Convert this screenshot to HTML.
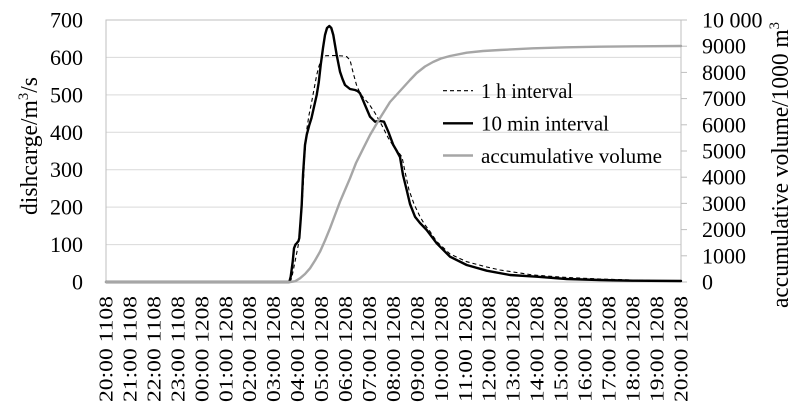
<!DOCTYPE html>
<html><head><meta charset="utf-8"><style>
html,body{margin:0;padding:0;background:#fff;}
svg{display:block;}
text{font-family:"Liberation Serif","Times New Roman",serif;fill:#000;}
</style></head><body>
<svg width="798" height="414" viewBox="0 0 798 414" xmlns="http://www.w3.org/2000/svg">
<rect x="0" y="0" width="798" height="414" fill="#fff"/>
<g stroke="#d9d9d9" stroke-width="1">
<line x1="106" y1="244.6" x2="681" y2="244.6"/>
<line x1="106" y1="207.1" x2="681" y2="207.1"/>
<line x1="106" y1="169.7" x2="681" y2="169.7"/>
<line x1="106" y1="132.3" x2="681" y2="132.3"/>
<line x1="106" y1="94.9" x2="681" y2="94.9"/>
<line x1="106" y1="57.4" x2="681" y2="57.4"/>
</g>
<rect x="106" y="20" width="575" height="262" fill="none" stroke="#bfbfbf" stroke-width="1"/>
<g stroke="#bfbfbf" stroke-width="1">
<line x1="681" y1="282" x2="687" y2="282"/>
<line x1="681" y1="255.8" x2="687" y2="255.8"/>
<line x1="681" y1="229.6" x2="687" y2="229.6"/>
<line x1="681" y1="203.4" x2="687" y2="203.4"/>
<line x1="681" y1="177.2" x2="687" y2="177.2"/>
<line x1="681" y1="151" x2="687" y2="151"/>
<line x1="681" y1="124.8" x2="687" y2="124.8"/>
<line x1="681" y1="98.6" x2="687" y2="98.6"/>
<line x1="681" y1="72.4" x2="687" y2="72.4"/>
<line x1="681" y1="46.2" x2="687" y2="46.2"/>
<line x1="681" y1="20" x2="687" y2="20"/>
</g>
<g font-size="22" text-anchor="end">
<text x="83" y="289.5">0</text>
<text x="83" y="252">100</text>
<text x="83" y="214.6">200</text>
<text x="83" y="177.2">300</text>
<text x="83" y="139.8">400</text>
<text x="83" y="102.4">500</text>
<text x="83" y="64.9">600</text>
<text x="83" y="27.5">700</text>
</g>
<g font-size="22" text-anchor="start">
<text x="702" y="289.5">0</text>
<text x="702" y="263.3">1000</text>
<text x="702" y="237.1">2000</text>
<text x="702" y="210.9">3000</text>
<text x="702" y="184.7">4000</text>
<text x="702" y="158.5">5000</text>
<text x="702" y="132.3">6000</text>
<text x="702" y="106.1">7000</text>
<text x="702" y="79.9">8000</text>
<text x="702" y="53.7">9000</text>
<text x="702" y="27.5">10 000</text>
</g>
<text font-size="24" transform="translate(37,215) rotate(-90)" textLength="138" lengthAdjust="spacingAndGlyphs">dishcarge/m<tspan dy="-9" font-size="15">3</tspan><tspan dy="9">/s</tspan></text>
<text font-size="24" transform="translate(788,308) rotate(-90)" textLength="286" lengthAdjust="spacingAndGlyphs">accumulative volume/1000 m<tspan dy="-9" font-size="15">3</tspan></text>
<g font-size="20">
<text transform="translate(112.5,402) rotate(-90)" textLength="106" lengthAdjust="spacingAndGlyphs">20:00 1108</text>
<text transform="translate(136.45,402) rotate(-90)" textLength="106" lengthAdjust="spacingAndGlyphs">21:00 1108</text>
<text transform="translate(160.4,402) rotate(-90)" textLength="106" lengthAdjust="spacingAndGlyphs">22:00 1108</text>
<text transform="translate(184.35,402) rotate(-90)" textLength="106" lengthAdjust="spacingAndGlyphs">23:00 1108</text>
<text transform="translate(208.3,402) rotate(-90)" textLength="106" lengthAdjust="spacingAndGlyphs">00:00 1208</text>
<text transform="translate(232.25,402) rotate(-90)" textLength="106" lengthAdjust="spacingAndGlyphs">01:00 1208</text>
<text transform="translate(256.2,402) rotate(-90)" textLength="106" lengthAdjust="spacingAndGlyphs">02:00 1208</text>
<text transform="translate(280.15,402) rotate(-90)" textLength="106" lengthAdjust="spacingAndGlyphs">03:00 1208</text>
<text transform="translate(304.1,402) rotate(-90)" textLength="106" lengthAdjust="spacingAndGlyphs">04:00 1208</text>
<text transform="translate(328.05,402) rotate(-90)" textLength="106" lengthAdjust="spacingAndGlyphs">05:00 1208</text>
<text transform="translate(352,402) rotate(-90)" textLength="106" lengthAdjust="spacingAndGlyphs">06:00 1208</text>
<text transform="translate(375.95,402) rotate(-90)" textLength="106" lengthAdjust="spacingAndGlyphs">07:00 1208</text>
<text transform="translate(399.9,402) rotate(-90)" textLength="106" lengthAdjust="spacingAndGlyphs">08:00 1208</text>
<text transform="translate(423.85,402) rotate(-90)" textLength="106" lengthAdjust="spacingAndGlyphs">09:00 1208</text>
<text transform="translate(447.8,402) rotate(-90)" textLength="106" lengthAdjust="spacingAndGlyphs">10:00 1208</text>
<text transform="translate(471.75,402) rotate(-90)" textLength="106" lengthAdjust="spacingAndGlyphs">11:00 1208</text>
<text transform="translate(495.7,402) rotate(-90)" textLength="106" lengthAdjust="spacingAndGlyphs">12:00 1208</text>
<text transform="translate(519.65,402) rotate(-90)" textLength="106" lengthAdjust="spacingAndGlyphs">13:00 1208</text>
<text transform="translate(543.6,402) rotate(-90)" textLength="106" lengthAdjust="spacingAndGlyphs">14:00 1208</text>
<text transform="translate(567.55,402) rotate(-90)" textLength="106" lengthAdjust="spacingAndGlyphs">15:00 1208</text>
<text transform="translate(591.5,402) rotate(-90)" textLength="106" lengthAdjust="spacingAndGlyphs">16:00 1208</text>
<text transform="translate(615.45,402) rotate(-90)" textLength="106" lengthAdjust="spacingAndGlyphs">17:00 1208</text>
<text transform="translate(639.4,402) rotate(-90)" textLength="106" lengthAdjust="spacingAndGlyphs">18:00 1208</text>
<text transform="translate(663.35,402) rotate(-90)" textLength="106" lengthAdjust="spacingAndGlyphs">19:00 1208</text>
<text transform="translate(687.3,402) rotate(-90)" textLength="106" lengthAdjust="spacingAndGlyphs">20:00 1208</text>
</g>
<polyline fill="none" stroke="#000" stroke-width="2.4" stroke-linejoin="round" stroke-linecap="round" points="
106,282 289.3,282 290.7,276.7 292.7,261.7 294,248.3 295.5,244.5 296.7,243.3 298.5,241 299.3,238 300.5,222 301.7,205 303,175 305,145 306.7,135 309.3,125 311.5,118 313.3,110 316.7,95 318.8,82 320.7,65 323,48 325,35 327,28 329.3,26 331.3,28 333.3,35 335,45 336.7,55 340,71.7 342.5,79 345,85 350,89 355,90 357.5,91 360,93.3 362.5,99 365,105 370,116.7 375,121.7 380,121 384,121.7 388.3,131.7 393.3,145 396.5,150.5 400,157 403,175 406.7,190 410,204 415,216.7 420,223 426.7,230 436.7,243.3 450,256.7 466.7,265 486.7,270.7 510,275 536.7,276.7 566.7,279 600,280 633,280.7 681,281"/>
<polyline fill="none" stroke="#000" stroke-width="1.1" stroke-dasharray="4,3" stroke-linejoin="round" points="
290,282 291.7,278 295,261.7 298.3,245 301,220 303,190 304.5,160 306.7,130 309,115 311.7,101.7 316.7,75 319,66 321.7,58.3 324,56 326.7,55.7 335,55.5 343,56 346.7,56.7 350,60 353.3,73.3 356.5,85 360,93 364,98.5 368.3,103 375,113 381.7,125 388.3,138 393.3,146 397.5,151 402,157 405.5,174 409,190 414,204 420,216.7 425,225 429,230 436.7,241.5 450,254 466.7,261.7 486.7,267 500,270 533,275 566.7,277.5 600,279 640,280.3 681,281"/>
<polyline fill="none" stroke="#a6a6a6" stroke-width="2.4" stroke-linejoin="round" stroke-linecap="round" points="
106,282 290,282 295,281.3 300,278.3 305,274 310,268.3 315,260.5 320,251.7 325,240.5 330,228.3 335,215 340,201.7 345,190 350,178.3 356,163 363.3,148.3 370,135 380,118 390,102 400,91 410,80 416.7,73 425,66.5 433,62 441,58.5 450,56 466.7,52.7 483,51 500,50 533,48.3 566.7,47.3 600,46.7 640,46.3 681,46"/>
<line x1="443" y1="90.7" x2="473" y2="90.7" stroke="#000" stroke-width="1.1" stroke-dasharray="4,3"/>
<line x1="443" y1="123.3" x2="473" y2="123.3" stroke="#000" stroke-width="2.4"/>
<line x1="443" y1="155.5" x2="473" y2="155.5" stroke="#a6a6a6" stroke-width="2.4"/>
<g font-size="21">
<text x="481" y="98" textLength="92" lengthAdjust="spacingAndGlyphs">1 h interval</text>
<text x="481" y="130.5" textLength="128" lengthAdjust="spacingAndGlyphs">10 min interval</text>
<text x="481" y="162.8" textLength="181" lengthAdjust="spacingAndGlyphs">accumulative volume</text>
</g>
</svg>
</body></html>
